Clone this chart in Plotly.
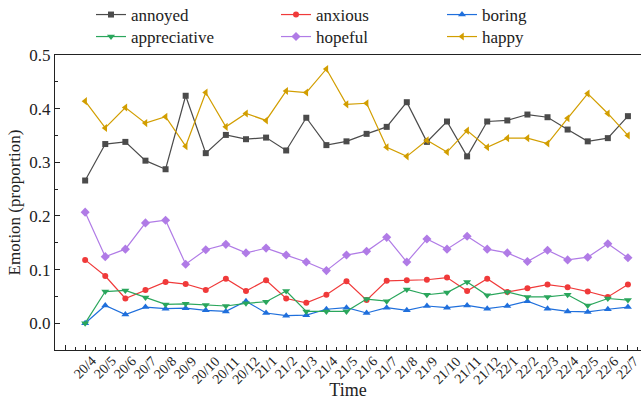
import plotly.graph_objects as go

months = ["20/4","20/5","20/6","20/7","20/8","20/9","20/10","20/11","20/12",
          "21/1","21/2","21/3","21/4","21/5","21/6","21/7","21/8","21/9","21/10","21/11","21/12",
          "22/1","22/2","22/3","22/4","22/5","22/6","22/7"]

annoyed = [0.266,0.334,0.338,0.303,0.287,0.424,0.317,0.351,0.343,0.346,0.322,0.383,0.332,0.339,
           0.353,0.366,0.412,0.338,0.376,0.311,0.376,0.378,0.389,0.384,0.361,0.339,0.345,0.386]
anxious = [0.118,0.088,0.046,0.062,0.077,0.073,0.062,0.083,0.060,0.080,0.046,0.038,0.053,0.078,
           0.043,0.079,0.080,0.081,0.085,0.060,0.083,0.058,0.065,0.072,0.067,0.059,0.049,0.072]
boring = [0.000,0.033,0.016,0.030,0.027,0.028,0.024,0.022,0.041,0.019,0.014,0.015,0.026,0.029,
          0.019,0.029,0.024,0.032,0.029,0.033,0.027,0.032,0.041,0.027,0.022,0.021,0.026,0.030]
appreciative = [0.000,0.059,0.061,0.048,0.035,0.036,0.034,0.032,0.037,0.040,0.060,0.022,0.022,0.022,
                0.045,0.041,0.063,0.053,0.057,0.077,0.052,0.058,0.049,0.049,0.053,0.033,0.046,0.043]
hopeful = [0.207,0.124,0.138,0.187,0.192,0.110,0.137,0.147,0.131,0.140,0.127,0.114,0.098,0.127,
           0.134,0.160,0.114,0.157,0.138,0.162,0.138,0.131,0.115,0.136,0.118,0.123,0.148,0.122]
happy = [0.414,0.364,0.402,0.373,0.385,0.330,0.430,0.366,0.391,0.378,0.433,0.430,0.474,0.408,
         0.410,0.328,0.311,0.341,0.319,0.359,0.328,0.345,0.345,0.335,0.382,0.428,0.391,0.350]

# name, values, colour, symbol, size, legend id, legend left px, legend row
series = [
    ("annoyed", annoyed, "#4b4b4b", "square", 6, "legend", 91, 0),
    ("anxious", anxious, "#f03a3a", "circle", 6, "legend2", 276, 0),
    ("boring", boring, "#1f6fdc", "triangle-up", 7, "legend3", 442, 0),
    ("appreciative", appreciative, "#2aa65c", "triangle-down", 7, "legend4", 91, 1),
    ("hopeful", hopeful, "#b07be6", "diamond", 7, "legend5", 276, 1),
    ("happy", happy, "#d29e00", "triangle-left", 7, "legend6", 442, 1),
]

xs = list(range(len(months)))
FONT = "Liberation Serif, Times New Roman, serif"

L, T, W, H = 55, 55, 586, 295

def px_x(p):
    return (p - L) / W

def px_y(p):
    return 1 + (T - p) / H

fig = go.Figure()
legends = {}
for name, vals, col, sym, sz, lg, lx, row in series:
    fig.add_trace(go.Scatter(
        x=xs, y=vals, name=name, mode="lines+markers",
        line=dict(color=col, width=1.2),
        marker=dict(color=col, symbol=sym, size=sz),
        legend=lg, showlegend=True,
    ))
    legends[lg] = dict(orientation="v", xref="paper", yref="paper",
                       xanchor="left", yanchor="top", bgcolor="rgba(0,0,0,0)",
                       font=dict(family=FONT, size=17, color="#222"),
                       tracegroupgap=0, itemwidth=30, visible=True,
                       x=px_x(lx), y=px_y(-3 + 22 * row))

# month labels centred under their ticks, rotated 45 degrees
for i, m in enumerate(months):
    fig.add_annotation(x=xs[i], xref="x", y=px_y(351), yref="paper",
                       text=m, textangle=-45, showarrow=False,
                       xanchor="center", yanchor="top",
                       font=dict(family=FONT, size=14, color="#222"))

fig.update_layout(
    width=642, height=400,
    showlegend=True,
    margin=dict(l=L, r=642 - L - W, t=T, b=400 - T - H, autoexpand=False),
    paper_bgcolor="white", plot_bgcolor="white",
    font=dict(family=FONT, size=17, color="#222"),
    xaxis=dict(
        range=[-1.5, 27.65],
        tickmode="array",
        tickvals=list(range(-1, len(months))),
        showticklabels=False,
        ticks="inside", ticklen=5, tickwidth=1, tickcolor="#222",
        minor=dict(tickmode="linear", tick0=0.5, dtick=1, ticks="inside",
                   ticklen=3, tickwidth=1, tickcolor="#222"),
        showline=True, linecolor="#222", linewidth=1.2, mirror=True,
        showgrid=False, zeroline=False,
        title=dict(text="Time", font=dict(family=FONT, size=18, color="#222"), standoff=33),
    ),
    yaxis=dict(
        range=[-0.05, 0.5],
        tickmode="linear", tick0=0, dtick=0.1, tickformat=".1f",
        tickfont=dict(family=FONT, size=17, color="#222"),
        ticks="inside", ticklen=5, tickwidth=1, tickcolor="#222",
        minor=dict(tickmode="linear", tick0=0.05, dtick=0.1, ticks="inside",
                   ticklen=3, tickwidth=1, tickcolor="#222"),
        showline=True, linecolor="#222", linewidth=1.2,
        showgrid=False, zeroline=False,
        title=dict(text="Emotion (proportion)", font=dict(family=FONT, size=17, color="#222"), standoff=4),
    ),
)
fig.update_layout(**legends)

fig.write_html("out.html", config={"displayModeBar": False},
               post_script="document.body.style.margin='0';document.body.style.padding='0';")
